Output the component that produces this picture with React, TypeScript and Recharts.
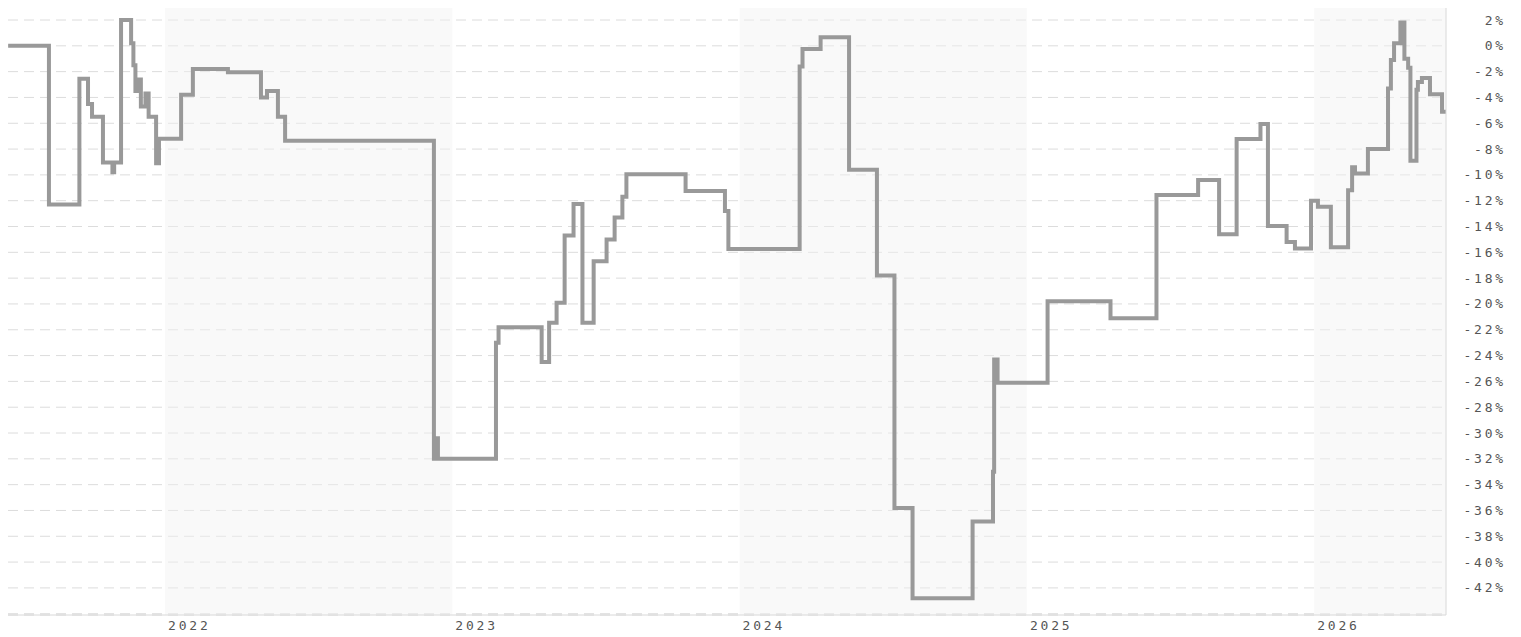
import React from 'react';
import {
  LineChart,
  Line,
  XAxis,
  YAxis,
  CartesianGrid,
  ReferenceArea,
} from 'recharts';

// decimal year at which each level starts (step chart)
const time = [
  2021.454, 2021.596, 2021.702, 2021.732, 2021.746, 2021.784, 2021.817, 2021.823,
  2021.847, 2021.882, 2021.890, 2021.897, 2021.906, 2021.916, 2021.932, 2021.943,
  2021.969, 2021.979, 2022.056, 2022.097, 2022.219, 2022.334, 2022.355, 2022.393,
  2022.418, 2022.936, 2022.943, 2022.950, 2023.152, 2023.161, 2023.311, 2023.337,
  2023.363, 2023.391, 2023.422, 2023.453, 2023.492, 2023.537, 2023.565, 2023.592,
  2023.606, 2023.812, 2023.949, 2023.961, 2024.209, 2024.219, 2024.282, 2024.381,
  2024.478, 2024.539, 2024.602, 2024.811, 2024.882, 2024.886, 2024.898, 2025.072,
  2025.291, 2025.451, 2025.596, 2025.669, 2025.730, 2025.813, 2025.839, 2025.904,
  2025.933, 2025.989, 2026.013, 2026.058, 2026.118, 2026.132, 2026.142, 2026.187,
  2026.257, 2026.267, 2026.278, 2026.300, 2026.314, 2026.327, 2026.335, 2026.356,
  2026.361, 2026.375, 2026.403, 2026.445, 2026.459,
];

// percent change
const change = [
  0.0, -12.3, -2.55, -4.5, -5.5, -9.05, -9.8, -9.05,
  2.0, 0.2, -1.5, -3.5, -2.6, -4.7, -3.7, -5.5,
  -9.1, -7.2, -3.8, -1.8, -2.05, -4.0, -3.5, -5.5,
  -7.35, -32.0, -30.4, -32.0, -23.0, -21.8, -24.5, -21.45,
  -19.9, -14.7, -12.25, -21.45, -16.7, -15.0, -13.3, -11.7,
  -9.95, -11.25, -12.8, -15.74, -1.6, -0.25, 0.66, -9.6,
  -17.8, -35.8, -42.8, -36.85, -33.0, -24.3, -26.1, -19.8,
  -21.1, -11.56, -10.4, -14.6, -7.22, -6.06, -13.96, -15.2,
  -15.7, -12.0, -12.46, -15.6, -11.2, -9.4, -9.9, -8.0,
  -3.3, -1.1, 0.2, 1.8, -1.0, -1.7, -8.9, -3.4,
  -2.8, -2.5, -3.75, -5.1, -5.1,
];

const yearTicks = [2022, 2023, 2024, 2025, 2026];
const pctTicks = [2, 0, -2, -4, -6, -8, -10, -12, -14, -16, -18, -20, -22, -24, -26, -28, -30, -32, -34, -36, -38, -40, -42, -44];
const shadedYears = [2022, 2024, 2026];

const X_MIN = 2021.4535;
const X_MAX = 2026.4588;

const data = time.map((t, i) => ({ t, v: change[i] }));

const labelStyle = {
  fontFamily: '"DejaVu Sans Mono", monospace',
  fontSize: 13,
  letterSpacing: 2.8,
  fill: '#555555',
};

const YearTick = ({ x, y, payload }: any) => (
  <text x={x + 3} y={y} dy={2} textAnchor="start" dominantBaseline="central" style={labelStyle}>
    {payload.value}
  </text>
);

// -44 only gets a grid line, no label
const PctTick = ({ x, y, payload }: any) => {
  if (payload.value === -44) return null;
  return (
    <text x={x + 52} y={y} textAnchor="end" dominantBaseline="central" style={labelStyle}>
      {payload.value}%
    </text>
  );
};

export default function App() {
  return (
    <div style={{ position: 'relative', top: -4, width: 1505, height: 633, background: '#fff' }}>
      <LineChart width={1505} height={633} data={data} margin={{ top: 0, right: 0, bottom: 0, left: 0 }}>
        <CartesianGrid vertical={false} stroke="#dcdcdc" strokeDasharray="10 6" />
        {shadedYears.map((yr) => (
          <ReferenceArea
            key={yr}
            x1={yr}
            x2={Math.min(yr + 1, X_MAX)}
            fill="#f1f1f1"
            fillOpacity={0.45}
            stroke="none"
            ifOverflow="hidden"
          />
        ))}
        <XAxis
          type="number"
          dataKey="t"
          domain={[X_MIN, X_MAX]}
          ticks={yearTicks}
          tick={YearTick}
          tickLine={false}
          axisLine={{ stroke: '#d8d8d8' }}
          height={22}
          allowDataOverflow
        />
        <YAxis
          orientation="right"
          type="number"
          domain={[-44.1, 3.24]}
          ticks={pctTicks}
          tick={PctTick}
          tickLine={false}
          axisLine={{ stroke: '#d8d8d8' }}
          width={67}
          interval={0}
          allowDataOverflow
        />
        <Line
          type="stepAfter"
          dataKey="v"
          stroke="#999999"
          strokeWidth={4}
          dot={false}
          isAnimationActive={false}
        />
      </LineChart>
    </div>
  );
}
